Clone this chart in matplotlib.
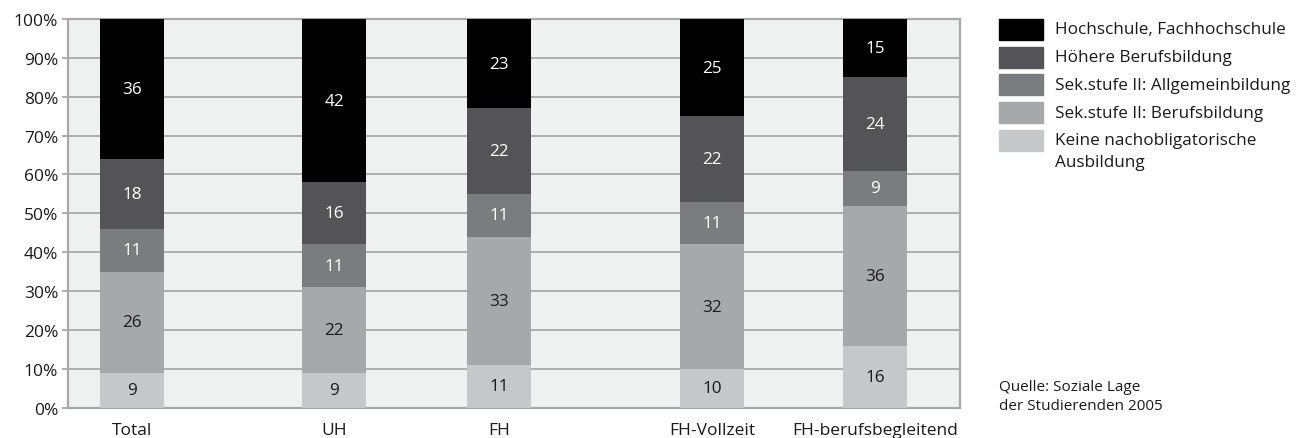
import numpy as np
import matplotlib.pyplot as plt
from matplotlib.patches import Rectangle

plt.rcParams['font.family'] = ['Open Sans', 'DejaVu Sans']

# Data
categories = ['Total', 'UH', 'FH', 'FH-Vollzeit', 'FH-berufsbegleitend']
series_names = ['Keine nachobligatorische\nAusbildung',
                'Sek.stufe II: Berufsbildung',
                'Sek.stufe II: Allgemeinbildung',
                'Höhere Berufsbildung',
                'Hochschule, Fachhochschule']
keine = [9, 9, 11, 10, 16]
sek_beruf = [26, 22, 33, 32, 36]
sek_allg = [11, 11, 11, 11, 9]
hoehere = [18, 16, 22, 22, 24]
hochschule = [36, 42, 23, 25, 15]
values = [keine, sek_beruf, sek_allg, hoehere, hochschule]

# Layout / style
x_pos = [64, 266, 431, 644, 807]
bar_width = 64
colors = ['#c6c7c9', '#a7a8aa', '#7b7c7e', '#545456', '#000000']
text_colors = ['#1a1a1a', '#1a1a1a', 'white', 'white', 'white']
grid_col = '#a8a8a8'
fs = 12.3

fig = plt.figure(figsize=(13.01, 4.39), dpi=100)
ax = fig.add_axes([68 / 1301, 1 - 408.7 / 439, (960 - 68) / 1301, (408.7 - 20) / 439])
ax.set_facecolor('#eff0f0')

bottom = np.zeros(len(categories))
for vals, col, tcol in zip(values, colors, text_colors):
    vals = np.array(vals, dtype=float)
    ax.bar(x_pos, vals, bottom=bottom, width=bar_width, color=col, zorder=3, linewidth=0)
    for x, b, v in zip(x_pos, bottom, vals):
        ax.text(x, b + v / 2, f'{v:.0f}', ha='center', va='center', color=tcol,
                fontsize=fs, zorder=4)
    bottom += vals

ax.set_xlim(0, 892)
ax.set_ylim(0, 100)
ax.set_yticks(np.arange(0, 101, 10))
ax.set_yticklabels([f'{t}%' for t in range(0, 101, 10)], fontsize=12.5, color='#1a1a1a')
ax.set_xticks(x_pos)
ax.set_xticklabels(categories, fontsize=12.5, color='#1a1a1a')
ax.tick_params(axis='x', length=0, pad=10)
ax.tick_params(axis='y', length=4, color=grid_col, width=1.3, pad=3)
ax.yaxis.grid(True, color=grid_col, linewidth=1.3, zorder=1)
ax.set_axisbelow(True)
for sp in ax.spines.values():
    sp.set_color(grid_col)
    sp.set_linewidth(1.6)

# Legend (top to bottom: darkest first)
W, H = 1301, 439
for i, idx in enumerate(range(len(series_names) - 1, -1, -1)):
    top = 20 + i * 27.7
    fig.patches.append(Rectangle((999 / W, 1 - (top + 21) / H), 44 / W, 21 / H,
                                 transform=fig.transFigure, color=colors[idx]))
    lines = series_names[idx].split('\n')
    for j, line in enumerate(lines):
        fig.text(1055 / W, 1 - (top + 10.5 + j * 22) / H, line, fontsize=fs,
                 va='center', color='#1a1a1a')

fig.text(999 / W, 1 - 388 / H, 'Quelle: Soziale Lage', fontsize=11,
         va='center', color='#1a1a1a')
fig.text(999 / W, 1 - 407 / H, 'der Studierenden 2005', fontsize=11,
         va='center', color='#1a1a1a')

fig.savefig('out.png', dpi=100)
plt.close()
